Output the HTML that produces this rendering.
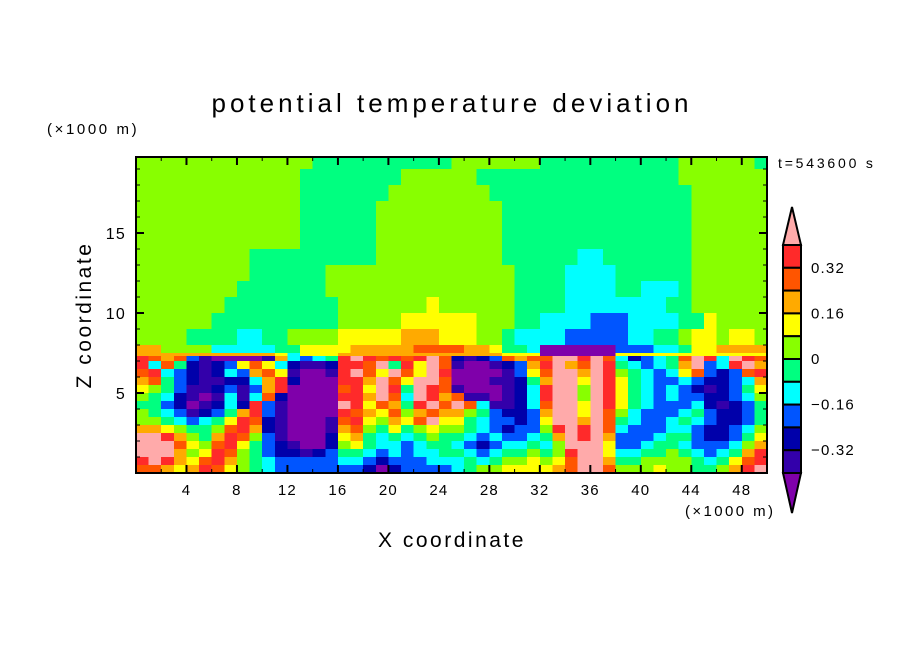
<!DOCTYPE html>
<html><head><meta charset="utf-8"><style>
html,body{margin:0;padding:0;background:#fff;}
svg{display:block;font-family:"Liberation Sans",sans-serif;}
</style></head><body>
<svg id="chart" width="904" height="654" viewBox="0 0 904 654">
<text x="452" y="112" text-anchor="middle" font-size="26" letter-spacing="4">potential temperature deviation</text>
<text x="47" y="134" font-size="15" letter-spacing="2.6">(×1000 m)</text>
<text x="778" y="168" font-size="14" letter-spacing="2.8">t=543600 s</text>
<text x="685" y="516" font-size="15" letter-spacing="2.4">(×1000 m)</text>
<text x="452" y="547" text-anchor="middle" font-size="21" letter-spacing="2.5">X coordinate</text>
<text transform="translate(91,315) rotate(-90)" text-anchor="middle" font-size="21" letter-spacing="2.5">Z coordinate</text>
<g id="field" shape-rendering="crispEdges"></g>
<g id="axes"></g>
<g id="cbar"></g>
</svg>
<script>
const colors=["#7f00aa","#3300aa","#0000aa","#0055ff","#00ffff","#00ff80","#88ff00","#ffff00","#ffaa00","#ff5500","#ff2a2a","#ffaaaa"];
const levelLabels=["0.32","0.16","0","\u22120.16","\u22120.32"];
const levelLabelValues=[0.32,0.16,0,-0.16,-0.32];
const xTicks=[4,8,12,16,20,24,28,32,36,40,44,48];
const yTicks=[5,10,15];
const zEdges=[20,19,18,17,16,15,14,13,12,11,10,9,8,7.5,7.3,7.0,6.5,6.0,5.5,5.0,4.5,4.0,3.5,3.0,2.5,2.0,1.5,1.0,0.5,0];
const rows=[
[6,6,6,6,6,6,6,6,6,6,6,6,6,6,5,5,5,5,5,5,5,5,5,5,5,6,6,6,6,6,6,6,5,5,5,5,5,5,5,5,5,5,5,6,6,6,6,6,6,5],
[6,6,6,6,6,6,6,6,6,6,6,6,6,5,5,5,5,5,5,5,5,6,6,6,6,6,6,5,5,5,5,5,5,5,5,5,5,5,5,5,5,5,5,6,6,6,6,6,6,6],
[6,6,6,6,6,6,6,6,6,6,6,6,6,5,5,5,5,5,5,5,6,6,6,6,6,6,6,6,5,5,5,5,5,5,5,5,5,5,5,5,5,5,5,5,6,6,6,6,6,6],
[6,6,6,6,6,6,6,6,6,6,6,6,6,5,5,5,5,5,5,6,6,6,6,6,6,6,6,6,6,5,5,5,5,5,5,5,5,5,5,5,5,5,5,5,6,6,6,6,6,6],
[6,6,6,6,6,6,6,6,6,6,6,6,6,5,5,5,5,5,5,6,6,6,6,6,6,6,6,6,6,5,5,5,5,5,5,5,5,5,5,5,5,5,5,5,6,6,6,6,6,6],
[6,6,6,6,6,6,6,6,6,6,6,6,6,5,5,5,5,5,5,6,6,6,6,6,6,6,6,6,6,5,5,5,5,5,5,5,5,5,5,5,5,5,5,5,6,6,6,6,6,6],
[6,6,6,6,6,6,6,6,6,5,5,5,5,5,5,5,5,5,5,6,6,6,6,6,6,6,6,6,6,5,5,5,5,5,5,4,4,5,5,5,5,5,5,5,6,6,6,6,6,6],
[6,6,6,6,6,6,6,6,6,5,5,5,5,5,5,6,6,6,6,6,6,6,6,6,6,6,6,6,6,6,5,5,5,5,4,4,4,4,5,5,5,5,5,5,6,6,6,6,6,6],
[6,6,6,6,6,6,6,6,5,5,5,5,5,5,5,6,6,6,6,6,6,6,6,6,6,6,6,6,6,6,5,5,5,5,4,4,4,4,5,5,4,4,4,5,6,6,6,6,6,6],
[6,6,6,6,6,6,6,5,5,5,5,5,5,5,5,5,6,6,6,6,6,6,6,7,6,6,6,6,6,6,5,5,5,5,4,4,4,4,4,4,4,4,5,5,6,6,6,6,6,6],
[6,6,6,6,6,6,5,5,5,5,5,5,5,5,5,5,6,6,6,6,6,7,7,7,7,7,7,6,6,6,5,5,4,4,4,4,3,3,3,4,4,4,4,5,5,7,6,6,6,6],
[6,6,6,6,5,5,5,5,4,4,5,5,6,6,6,6,7,7,7,7,7,8,8,8,7,7,7,6,6,5,4,4,4,4,3,3,3,3,3,4,4,5,5,6,7,7,6,7,7,6],
[8,8,6,6,6,6,4,4,4,4,4,5,5,7,7,7,7,8,8,8,8,8,9,9,9,9,8,8,7,5,5,4,0,0,0,0,0,0,3,3,3,4,4,5,7,7,8,8,8,8],
[8,8,8,8,8,8,8,8,8,8,8,7,4,7,7,7,8,8,8,8,8,8,8,8,8,8,8,8,8,7,7,7,0,0,0,0,0,0,7,7,7,7,7,7,7,7,7,7,7,7],
[10,9,8,9,3,1,0,0,0,0,1,8,4,3,4,5,10,11,10,9,10,9,10,11,9,2,1,2,3,9,8,9,9,11,11,10,11,9,4,2,3,4,5,9,11,10,4,11,10,9],
[10,4,9,5,2,1,2,3,7,9,7,4,2,1,1,2,10,10,9,11,5,10,7,11,9,1,0,0,1,2,3,8,10,11,8,9,11,10,5,4,3,4,5,8,11,3,4,10,11,8],
[9,10,4,3,2,1,2,4,3,8,9,7,1,0,0,1,10,11,9,7,11,9,7,11,10,0,0,0,0,1,3,7,9,11,11,8,11,10,6,5,4,3,4,7,9,3,2,3,9,10],
[8,9,5,3,2,1,1,2,2,4,8,10,2,0,0,0,10,10,8,11,9,7,11,11,9,0,0,0,1,1,2,5,8,11,11,7,11,10,7,5,4,3,3,4,3,2,2,3,4,8],
[7,6,5,3,1,1,2,3,1,3,8,10,0,0,0,0,9,10,7,11,10,5,11,10,9,1,0,0,0,1,2,4,10,11,11,6,11,10,7,5,4,3,4,3,2,1,2,3,5,7],
[6,5,4,2,1,0,1,4,1,4,9,2,0,0,0,0,10,10,8,11,9,4,11,10,8,9,1,1,0,1,2,4,10,11,11,6,11,10,7,5,4,3,4,3,3,2,2,3,4,6],
[5,5,3,2,0,1,2,4,2,10,3,1,0,0,0,0,11,10,7,9,8,5,10,11,9,11,9,4,1,1,2,4,9,11,11,7,11,10,7,5,4,3,3,3,4,2,1,2,3,5],
[6,5,4,3,1,2,3,5,8,10,3,1,0,0,0,0,10,9,8,7,9,6,8,9,8,8,6,5,3,2,2,3,8,11,11,7,11,9,6,4,3,3,3,4,5,3,2,2,3,5],
[6,6,5,4,3,4,5,7,10,9,2,1,0,0,0,1,9,10,7,6,8,7,9,11,7,7,5,4,3,3,2,3,7,11,11,8,11,9,5,4,3,3,4,5,4,3,2,2,3,5],
[8,8,7,6,5,5,6,9,10,8,2,1,0,0,0,1,8,9,6,5,7,5,6,7,6,6,5,4,3,2,3,3,6,10,11,10,11,9,4,3,3,3,4,4,3,2,2,3,4,6],
[11,11,10,8,6,5,8,10,9,6,3,1,0,0,0,2,7,8,5,4,5,4,5,6,5,5,4,3,4,3,3,4,5,8,11,10,11,8,3,3,3,4,5,5,3,2,2,3,5,7],
[11,11,11,9,7,6,9,10,7,5,3,2,1,0,0,2,6,7,5,4,4,3,4,5,5,4,3,2,3,4,4,5,4,6,11,11,11,7,3,3,4,5,5,4,3,3,3,4,6,8],
[11,11,11,8,6,7,10,9,6,5,3,2,2,1,2,3,5,5,4,3,4,3,4,4,5,5,4,3,4,5,5,6,5,6,10,11,11,7,4,4,5,5,6,5,4,3,4,5,8,10],
[10,11,10,8,7,9,10,8,6,5,4,3,3,3,3,3,4,4,3,2,3,3,3,4,4,4,5,4,5,6,6,7,6,7,9,11,11,8,5,5,6,6,6,6,5,4,5,7,9,10],
[9,9,8,7,8,10,9,7,6,5,4,3,3,3,3,3,3,3,2,0,2,3,3,3,3,4,5,6,6,7,7,7,7,8,9,11,11,9,6,6,6,7,6,6,5,5,6,8,10,11]
];
const X0=136,X1=767,Y0=157,Y1=473,XMAX=50,ZMAX=19.75;
const sx=v=>X0+v*(X1-X0)/XMAX;
const sy=v=>Y1-Math.min(v,ZMAX)*(Y1-Y0)/ZMAX;
const NS="http://www.w3.org/2000/svg";
const field=document.getElementById('field');
rows.forEach((row,ri)=>{
  const yTop=sy(zEdges[ri]),yBot=sy(zEdges[ri+1]);
  row.forEach((v,ci)=>{
    const x=sx(ci*XMAX/row.length),w=sx((ci+1)*XMAX/row.length)-x;
    const rc=document.createElementNS(NS,'rect');
    rc.setAttribute('x',x.toFixed(2));rc.setAttribute('y',yTop.toFixed(2));
    rc.setAttribute('width',(w+0.6).toFixed(2));rc.setAttribute('height',(yBot-yTop+0.6).toFixed(2));
    rc.setAttribute('fill',colors[v]);
    
    
    field.appendChild(rc);
  });
});
const axes=document.getElementById('axes');
function line(g,x1,y1,x2,y2,w){const l=document.createElementNS(NS,'line');l.setAttribute('x1',x1);l.setAttribute('y1',y1);l.setAttribute('x2',x2);l.setAttribute('y2',y2);l.setAttribute('stroke','#000');l.setAttribute('stroke-width',w);g.appendChild(l);return l;}
function text(g,x,y,s,anchor,size){const t=document.createElementNS(NS,'text');t.setAttribute('x',x);t.setAttribute('y',y);t.setAttribute('text-anchor',anchor);t.setAttribute('font-size',size);t.setAttribute('letter-spacing','1.2');t.textContent=s;g.appendChild(t);return t;}
const frame=document.createElementNS(NS,'rect');
frame.setAttribute('x',X0);frame.setAttribute('y',Y0);frame.setAttribute('width',X1-X0);frame.setAttribute('height',Y1-Y0);
frame.setAttribute('fill','none');frame.setAttribute('stroke','#000');frame.setAttribute('stroke-width','2');


axes.appendChild(frame);
for(let k=2;k<XMAX;k+=2){const x=sx(k);const L=(k%4===0)?8:4;
  const a=line(axes,x,Y1,x,Y1-L,k%4===0?2:1);
  
  
  const b=line(axes,x,Y0,x,Y0+L,k%4===0?2:1);
  
  }
for(let k=1;k<20;k++){const y=sy(k);const L=(k%5===0)?8:4;
  const a=line(axes,X0,y,X0+L,y,k%5===0?2:1);
  
  
  const b=line(axes,X1,y,X1-L,y,k%5===0?2:1);
  
  }
xTicks.forEach(v=>{const t=text(axes,sx(v),495,String(v),'middle',15);
  
  });
yTicks.forEach(v=>{const t=text(axes,126,sy(v)+6,String(v),'end',16);
  
  });
const cb=document.getElementById('cbar');
const CX=783,CW=18,CT=245,CB=473,nb=10,bh=(CB-CT)/nb;
const topArrow=document.createElementNS(NS,'polygon');
topArrow.setAttribute('points',`${CX},${CT} ${CX+CW},${CT} ${CX+CW/2},207`);
topArrow.setAttribute('fill',colors[11]);topArrow.setAttribute('stroke','#000');topArrow.setAttribute('stroke-width','2');


cb.appendChild(topArrow);
for(let i=0;i<nb;i++){const rc=document.createElementNS(NS,'rect');
  rc.setAttribute('x',CX);rc.setAttribute('y',CT+i*bh);rc.setAttribute('width',CW);rc.setAttribute('height',bh);
  rc.setAttribute('fill',colors[10-i]);rc.setAttribute('stroke','#000');rc.setAttribute('stroke-width','2');
  
  
  cb.appendChild(rc);}
const botArrow=document.createElementNS(NS,'polygon');
botArrow.setAttribute('points',`${CX},${CB} ${CX+CW},${CB} ${CX+CW/2},513`);
botArrow.setAttribute('fill',colors[0]);botArrow.setAttribute('stroke','#000');botArrow.setAttribute('stroke-width','2');


cb.appendChild(botArrow);
levelLabels.forEach((s,i)=>{const v=levelLabelValues[i];const y=CT+bh*(1+(0.32-v)/0.08);
  const t=text(cb,811,y+5,s,'start',15);
  
  });
</script>
</body></html>
